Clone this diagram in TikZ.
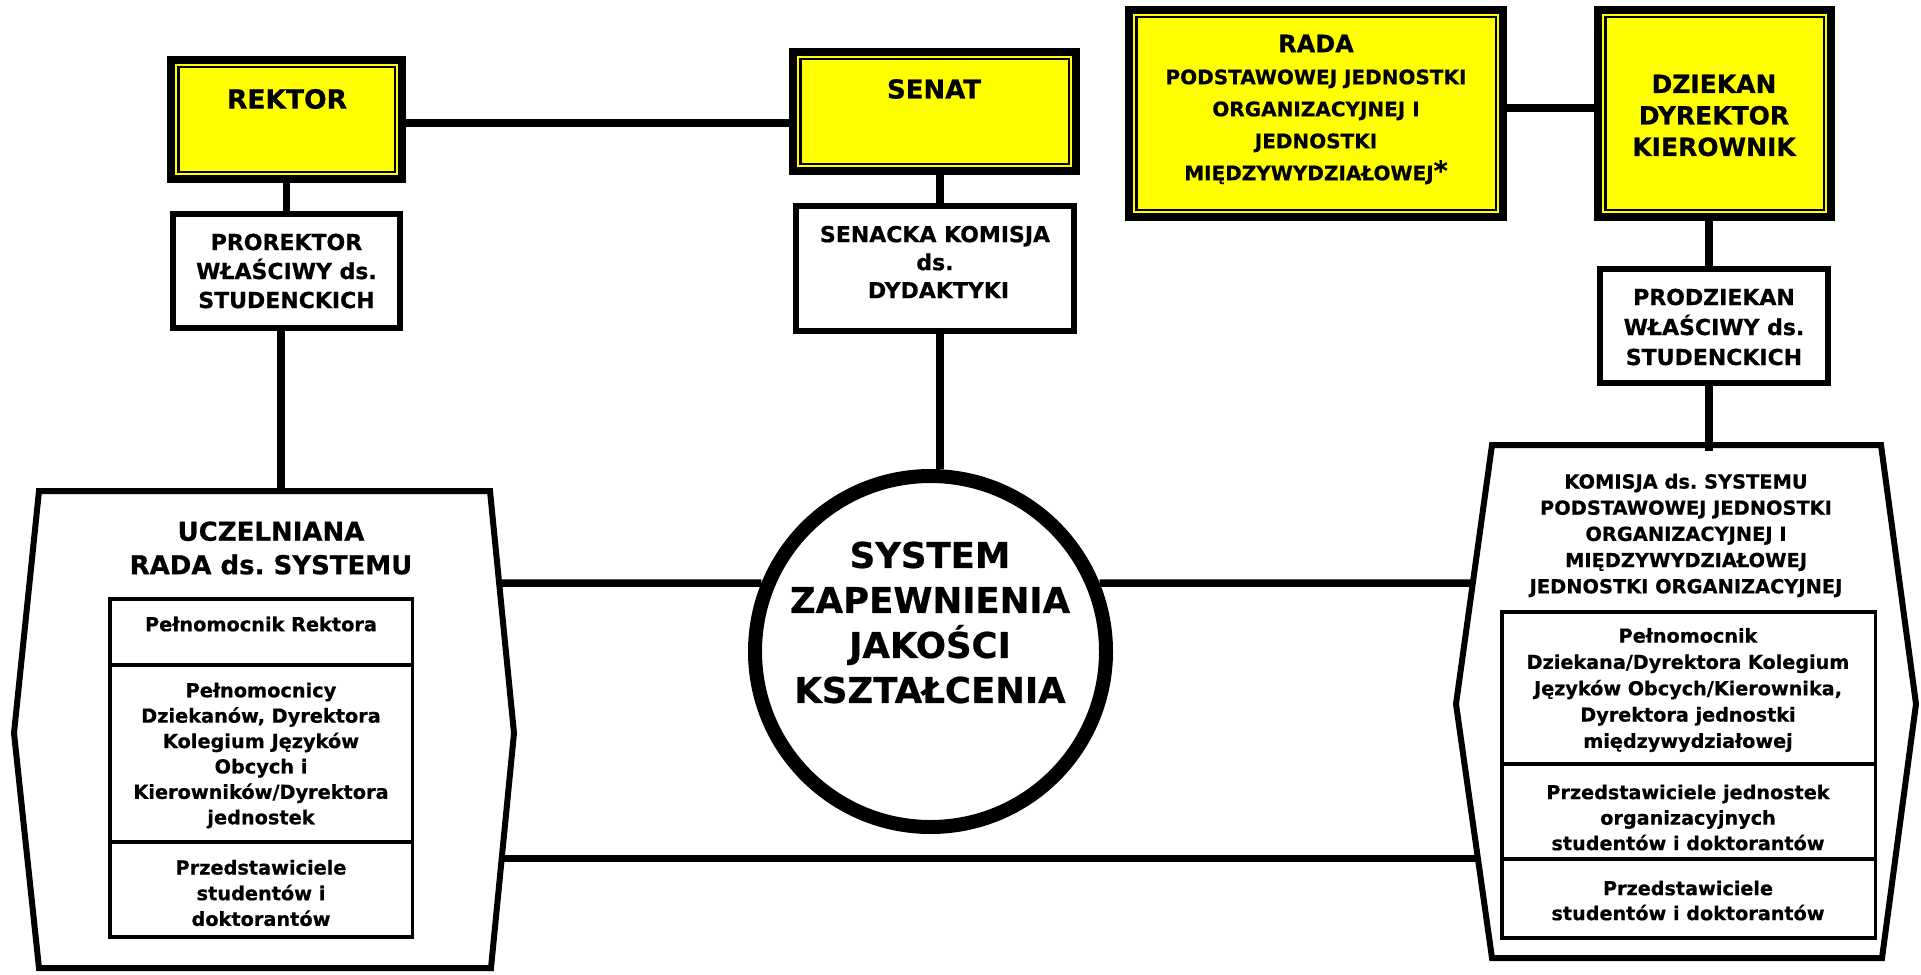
\documentclass[tikz,border=0pt]{standalone}
\usepackage{fontspec}
\setmainfont{DejaVu Sans}[BoldFeatures={FakeBold=0.6}]
\definecolor{ybg}{RGB}{255,255,0}
\begin{document}
\frenchspacing
\begin{tikzpicture}[x=1pt,y=-1pt,
  conn/.style={line width=7.5pt},
  wbox/.style={draw, fill=white, line width=6pt, inner sep=0pt},
  ybox/.style={draw, fill=ybg, line width=8pt, inner sep=0pt,
    path picture={\draw[line width=2.5pt]
      ([shift={(7.25pt,-7.25pt)}]path picture bounding box.north west) rectangle
      ([shift={(-7.25pt,7.25pt)}]path picture bounding box.south east);}},
  cell/.style={draw, line width=3.5pt, inner sep=0pt, minimum width=#1},
  hexa/.style={draw, line width=6pt, line join=miter},
  txt/.style 2 args={align=center, inner sep=0pt, font=\fontsize{#1}{#2}\selectfont\bfseries\frenchspacing},
  sysc/.style={circle, draw, line width=14pt, inner sep=0pt, minimum size=351pt}
]
\useasboundingbox (0,0) rectangle (1921,974);
\fill[white] (0,0) rectangle (1921,974);

% ---- yellow boxes
\node[ybox, minimum width=231pt, minimum height=119pt] (rektor) at (286.5,119.5) {};
\node[ybox, minimum width=283pt, minimum height=119pt] (senat) at (934.5,111.5) {};
\node[ybox, minimum width=374pt, minimum height=207pt] (rada) at (1316,113.5) {};
\node[ybox, minimum width=233pt, minimum height=207pt] (dziekan) at (1714.5,113.5) {};

% ---- white boxes
\node[wbox, minimum width=227pt, minimum height=114pt] (prorektor) at (286.5,271) {};
\node[wbox, minimum width=278pt, minimum height=125pt] (senacka) at (935,268.5) {};
\node[wbox, minimum width=228pt, minimum height=114pt] (prodziekan) at (1714,326) {};

% ---- texts of boxes
\node[txt={26.5}{32}] (rektor-t) at (287,99) {REKTOR};
\node[txt={26}{32}] (senat-t) at (934,89) {SENAT};
\node[txt={20}{32}] (rada-t) at (1316,109.5) {{\fontsize{24}{32}\selectfont RADA}\\PODSTAWOWEJ JEDNOSTKI\\ORGANIZACYJNEJ I\\JEDNOSTKI\\MIĘDZYWYDZIAŁOWEJ{\fontsize{27}{32}\selectfont*}};
\node[txt={25}{31.5}] (dziekan-t) at (1714,115.5) {DZIEKAN\\DYREKTOR\\KIEROWNIK};
\node[txt={22}{29}] (prorektor-t) at (286.5,271) {PROREKTOR\\WŁAŚCIWY ds.\\STUDENCKICH};
\node[txt={22}{28}] (senacka-t) at (935,262) {SENACKA KOMISJA\\ds.\\\hspace*{7pt}DYDAKTYKI};
\node[txt={22}{30}] (prodziekan-t) at (1714,327) {PRODZIEKAN\\WŁAŚCIWY ds.\\STUDENCKICH};

% ---- left hexagon (Uczelniana Rada)
\draw[hexa] (39,491) -- (490,491) -- (514,733) -- (491,968) -- (39,968) -- (14,733) -- cycle;
\coordinate (ucz-top) at (264,491);
\coordinate (ucz-r1) at (499,583);
\coordinate (ucz-r2) at (502,858.5);
\node[txt={26}{33.5}] (ucz-t) at (271,548) {UCZELNIANA\\RADA ds. SYSTEMU};
\node[cell=302.5pt, minimum height=66.25pt] (ucz-c1) at (261,631.9) {};
\node[cell=302.5pt, minimum height=177pt] (ucz-c2) at (261,753.5) {};
\node[cell=302.5pt, minimum height=95.25pt] (ucz-c3) at (261,889.6) {};
\node[txt={19.3}{25.4}] (ucz-c1-t) at (261,624) {Pełnomocnik Rektora};
\node[txt={19.3}{25.4}] (ucz-c2-t) at (261,755.5) {Pełnomocnicy\\Dziekanów, Dyrektora\\Kolegium Języków\\Obcych i\\Kierowników/Dyrektora\\jednostek};
\node[txt={19.3}{25.7}] (ucz-c3-t) at (261,893) {Przedstawiciele\\studentów i\\doktorantów};

% ---- right hexagon (Komisja)
\draw[hexa] (1492,445) -- (1881,445) -- (1916,704) -- (1882,958) -- (1492,958) -- (1456,704) -- cycle;
\coordinate (kom-top) at (1709,451);
\coordinate (kom-l1) at (1473,583);
\coordinate (kom-l2) at (1478,858.5);
\node[txt={19.4}{26.2}] (kom-t) at (1686,535.5) {KOMISJA ds. SYSTEMU\\PODSTAWOWEJ JEDNOSTKI\\ORGANIZACYJNEJ I\\MIĘDZYWYDZIAŁOWEJ\\JEDNOSTKI ORGANIZACYJNEJ};
\node[cell=373.5pt, minimum height=152.25pt] (kom-c1) at (1688.5,687.9) {};
\node[cell=373.5pt, minimum height=95pt] (kom-c2) at (1688.5,811.5) {};
\node[cell=373.5pt, minimum height=79.25pt] (kom-c3) at (1688.5,898.6) {};
\node[txt={19.2}{26.3}] (kom-c1-t) at (1688,690) {Pełnomocnik\\Dziekana/Dyrektora Kolegium\\Języków Obcych/Kierownika,\\Dyrektora jednostki\\międzywydziałowej};
\node[txt={19.2}{25.5}] (kom-c2-t) at (1688,817.5) {Przedstawiciele jednostek\\organizacyjnych\\studentów i doktorantów};
\node[txt={19.2}{25}] (kom-c3-t) at (1688,900.5) {Przedstawiciele\\studentów i doktorantów};

% ---- central circle
\node[sysc] (sys) at (930.5,651.5) {};
\node[txt={35.5}{45}] (sys-t) at (930,622.5) {SYSTEM\\ZAPEWNIENIA\\JAKOŚCI\\KSZTAŁCENIA};

% ---- connectors
\draw[conn] ([yshift=-3.5pt]rektor.east) -- ([yshift=-11.5pt]senat.west);
\draw[conn] (rektor.south) -- (prorektor.north);
\coordinate (pr-s) at ([xshift=-5.5pt]prorektor.south);
\draw[conn] (pr-s) -- (pr-s |- ucz-top);
\draw[conn] (senat.south -| sys.87) -- (senacka.north -| sys.87);
\draw[conn] (senacka.south -| sys.87) -- (sys.87);
\draw[conn] ([yshift=5.5pt]rada.east) -- ([yshift=5.5pt]dziekan.west);
\coordinate (dz-s) at ([xshift=-5.5pt]dziekan.south);
\draw[conn] (dz-s) -- (dz-s |- prodziekan.north);
\draw[conn] (prodziekan.south -| dz-s) -- (kom-top);
\draw[conn] (ucz-r1) -- (sys.158);
\draw[conn] (sys.22) -- (kom-l1);
\draw[conn] (ucz-r2) -- (kom-l2);
\end{tikzpicture}
\end{document}
